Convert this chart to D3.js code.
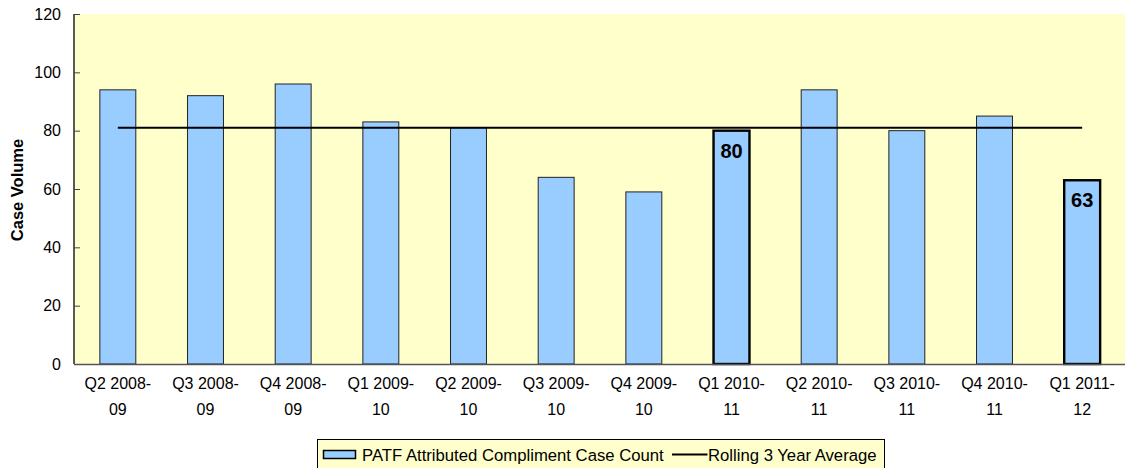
<!DOCTYPE html>
<html>
<head>
<meta charset="utf-8">
<script src="https://cdn.jsdelivr.net/npm/d3@7"></script>
<style>
  body { margin: 0; background: #fff; }
  text { font-family: "Liberation Sans", Arial, sans-serif; }
</style>
</head>
<body>
<script>
// chart data
var quarters = ["Q2 2008-09", "Q3 2008-09", "Q4 2008-09", "Q1 2009-10", "Q2 2009-10", "Q3 2009-10",
                "Q4 2009-10", "Q1 2010-11", "Q2 2010-11", "Q3 2010-11", "Q4 2010-11", "Q1 2011-12"];
var caseCounts = [94, 92, 96, 83, 81, 64, 59, 80, 94, 80, 85, 63];
var rollingAvg = [81, 81, 81, 81, 81, 81, 81, 81, 81, 81, 81, 81];
var labelledQuarters = ["Q1 2010-11", "Q1 2011-12"];
var yTicks = [0, 20, 40, 60, 80, 100, 120];

var W = 1125, H = 468;
var margin = {top: 14, right: -1, bottom: 104, left: 74},
    width = W - margin.left - margin.right,
    height = H - margin.top - margin.bottom;

var svg = d3.select("body").append("svg")
    .attr("width", W)
    .attr("height", H);

var g = svg.append("g")
    .attr("transform", "translate(" + margin.left + "," + margin.top + ")");

var x = d3.scaleBand().domain(quarters).range([0, width]).paddingInner(0.59).paddingOuter(0.295);
var y = d3.scaleLinear().domain([0, 120]).range([height, 0]);

// plot background
g.append("rect")
    .attr("width", width)
    .attr("height", height)
    .attr("fill", "#ffffcc");

function isLabelled(i) { return labelledQuarters.indexOf(quarters[i]) >= 0; }

// bars
g.selectAll("rect.bar")
    .data(caseCounts)
  .enter().append("rect")
    .attr("class", "bar")
    .attr("x", function(d, i) { return x(quarters[i]); })
    .attr("y", function(d) { return y(d); })
    .attr("width", x.bandwidth())
    .attr("height", function(d) { return height - y(d); })
    .attr("fill", "#99ccff")
    .attr("stroke", function(d, i) { return isLabelled(i) ? "#000" : "#222"; })
    .attr("stroke-width", function(d, i) { return isLabelled(i) ? 2.4 : 1; });

// bold value labels inside the highlighted bars
g.selectAll("text.val")
    .data(caseCounts.map(function(d, i) { return {v: d, q: quarters[i], on: isLabelled(i)}; })
      .filter(function(d) { return d.on; }))
  .enter().append("text")
    .attr("class", "val")
    .attr("x", function(d) { return x(d.q) + x.bandwidth() / 2; })
    .attr("y", function(d) { return y(d.v) + 27; })
    .attr("text-anchor", "middle")
    .attr("font-size", "20px")
    .attr("font-weight", "bold")
    .text(function(d) { return d.v; });

// rolling average line
var line = d3.line()
    .x(function(d, i) { return x(quarters[i]) + x.bandwidth() / 2; })
    .y(function(d) { return y(d); });

g.append("path")
    .datum(rollingAvg)
    .attr("d", line)
    .attr("fill", "none")
    .attr("stroke", "#000")
    .attr("stroke-width", 2);

// y axis (ticks point inward)
var yAxis = g.append("g")
    .call(d3.axisLeft(y).tickValues(yTicks).tickSize(-6).tickPadding(13));
yAxis.selectAll("text").attr("font-size", "16px").attr("fill", "#000").style("font-family", "Liberation Sans, Arial, sans-serif");
yAxis.selectAll("line").attr("stroke", "#444");
yAxis.select(".domain").attr("stroke", "#000").attr("stroke-width", 1.3).attr("d", "M0," + height + "V0");

// x axis line
g.append("line")
    .attr("x1", 0).attr("x2", width)
    .attr("y1", height + 0.5).attr("y2", height + 0.5)
    .attr("stroke", "#555").attr("stroke-width", 1.5);

// x labels (two lines)
var xl = g.selectAll("text.xl")
    .data(quarters)
  .enter().append("text")
    .attr("class", "xl")
    .attr("text-anchor", "middle")
    .attr("font-size", "16px")
    .attr("transform", function(d) { return "translate(" + (x(d) + x.bandwidth() / 2) + "," + (height + 25) + ")"; });
xl.append("tspan").attr("x", 0).attr("dy", 0).text(function(d) { return d.split("-")[0] + "-"; });
xl.append("tspan").attr("x", 0).attr("dy", 26).text(function(d) { return d.split("-")[1]; });

// y axis title
svg.append("text")
    .attr("transform", "translate(23," + (margin.top + height / 2 + 1) + ") rotate(-90)")
    .attr("text-anchor", "middle")
    .attr("font-size", "16.5px")
    .attr("font-weight", "bold")
    .text("Case Volume");

// legend
var legend = svg.append("g").attr("transform", "translate(317.5,439.5)");
legend.append("rect")
    .attr("width", 567)
    .attr("height", 40)
    .attr("fill", "#ffffcc")
    .attr("stroke", "#000");
legend.append("rect")
    .attr("x", 6).attr("y", 11)
    .attr("width", 32).attr("height", 8)
    .attr("fill", "#99ccff")
    .attr("stroke", "#000")
    .attr("stroke-width", 1.5);
legend.append("text")
    .attr("x", 44.5).attr("y", 21)
    .attr("font-size", "16.7px")
    .text("PATF Attributed Compliment Case Count");
legend.append("line")
    .attr("x1", 354.5).attr("x2", 390)
    .attr("y1", 15).attr("y2", 15)
    .attr("stroke", "#000").attr("stroke-width", 2);
legend.append("text")
    .attr("x", 390.5).attr("y", 21)
    .attr("font-size", "16.7px")
    .text("Rolling 3 Year Average");
</script>
</body>
</html>
